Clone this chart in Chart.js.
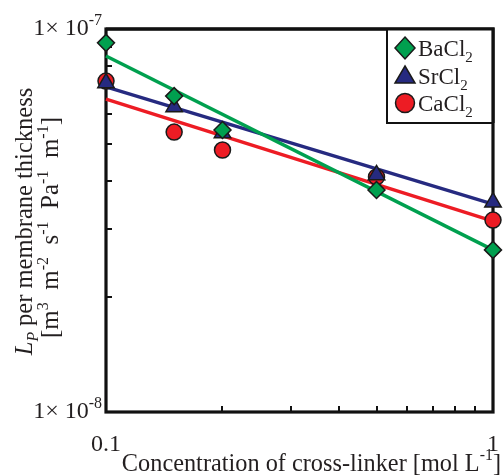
<!DOCTYPE html>
<html><head><meta charset="utf-8">
<script src="https://cdn.jsdelivr.net/npm/chart.js@4/dist/chart.umd.min.js"></script>
<style>html,body{margin:0;padding:0;background:#fff;}#wrap{width:504px;height:475px;position:relative;}</style>
</head><body><div id="wrap"><canvas id="c" width="504" height="475"></canvas></div>
<script>
// ---- data ----
const concentrations = [0.1, 0.15, 0.2, 0.5, 1];
const baCl2 = [9.2e-8, 6.68e-8, 5.45e-8, 3.8e-8, 2.65e-8];
const srCl2 = [7.23e-8, 6.26e-8, 5.35e-8, 4.16e-8, 3.53e-8];
const caCl2 = [7.31e-8, 5.38e-8, 4.83e-8, 4.11e-8, 3.17e-8];
const fitConc = [0.1, 1];
const baFit = [8.5e-8, 2.65e-8];
const srFit = [7.06e-8, 3.49e-8];
const caFit = [6.56e-8, 3.15e-8];
const xLabelValues = [0.1, 1];
const xLabelTexts = ['0.1', '1'];
const yLabelValues = [1e-8, 1e-7];
const yLabelExponents = ['-8', '-7'];
const xMinorTicks = [0.2, 0.3, 0.4, 0.5, 0.6, 0.7, 0.8, 0.9];
const yMinorTicks = [2e-8, 3e-8, 4e-8, 5e-8, 6e-8, 7e-8, 8e-8, 9e-8];
const seriesNames = ['BaCl', 'SrCl', 'CaCl'];
const seriesSub = ['2', '2', '2'];

const GREEN = '#00a04f', BLUE = '#262a80', RED = '#ed1c24', EDGE = '#1a1a1a';
const FONT = '"Liberation Serif", serif';

function pts(xs, ys) { return xs.map((x, i) => ({x: x, y: ys[i]})); }

function segFont(s, size) {
  const sz = s.k === 'n' ? size : Math.round(size * 0.65);
  return (s.it ? 'italic ' : '') + sz + 'px ' + FONT;
}
function segDy(s, size) { return s.k === 'sup' ? -size * 0.42 : (s.k === 'sub' ? size * 0.25 : 0); }
function drawRich(ctx, segs, x, y, size, align, sx) {
  sx = sx || 1;
  ctx.save();
  ctx.translate(x, y); ctx.scale(sx, 1);
  ctx.textBaseline = 'alphabetic'; ctx.textAlign = 'left';
  let w = 0;
  segs.forEach(s => { ctx.font = segFont(s, size); s.w = ctx.measureText(s.t).width; w += s.w; });
  let cx = align === 'right' ? -w : (align === 'center' ? -w / 2 : 0);
  segs.forEach(s => { ctx.font = segFont(s, size); ctx.fillText(s.t, cx, segDy(s, size)); cx += s.w; });
  ctx.restore();
}

const decor = {
  id: 'decor',
  beforeDatasetsDraw(chart) {
    const {ctx, chartArea: a, scales: {x, y}} = chart;
    ctx.save();
    ctx.strokeStyle = '#111'; ctx.lineWidth = 2;
    ctx.beginPath();
    yMinorTicks.forEach(v => { const py = Math.round(y.getPixelForValue(v)); ctx.moveTo(a.left, py); ctx.lineTo(a.left + 6, py); });
    xMinorTicks.forEach(v => { const px = Math.round(x.getPixelForValue(v)); ctx.moveTo(px, a.bottom); ctx.lineTo(px, a.bottom - 6); });
    ctx.stroke();
    ctx.lineWidth = 3.2;
    ctx.strokeRect(a.left, a.top, a.right - a.left, a.bottom - a.top);
    ctx.restore();
  },
  afterDraw(chart) {
    const {ctx, chartArea: a, scales: {x, y}} = chart;
    ctx.save();
    ctx.fillStyle = '#231f20';
    yLabelValues.forEach((v, i) => {
      const py = y.getPixelForValue(v);
      drawRich(ctx, [{t: '1\u00d7 10', k: 'n'}, {t: yLabelExponents[i], k: 'sup'}], a.left - 4, py + 6, 24, 'right');
    });
    xLabelValues.forEach((v, i) => {
      const px = x.getPixelForValue(v);
      drawRich(ctx, [{t: xLabelTexts[i], k: 'n'}], px, 451, 24, 'center');
    });
    drawRich(ctx, [{t: 'Concentration of cross-linker [mol L', k: 'n'}, {t: '-1', k: 'sup'}, {t: ']', k: 'n'}], 501, 471, 26, 'right', 0.935);
    const cy = (a.top + a.bottom) / 2;
    ctx.save(); ctx.translate(32, cy + 1); ctx.rotate(-Math.PI / 2);
    drawRich(ctx, [{t: 'L', k: 'n', it: true}, {t: 'P', k: 'sub', it: true}, {t: ' per membrane thickness', k: 'n'}], 0, 0, 25, 'center', 0.98);
    ctx.restore();
    ctx.save(); ctx.translate(58, cy + 7); ctx.rotate(-Math.PI / 2);
    drawRich(ctx, [{t: '[m', k: 'n'}, {t: '3', k: 'sup'}, {t: '  m', k: 'n'}, {t: '-2', k: 'sup'}, {t: '  s', k: 'n'}, {t: '-1', k: 'sup'}, {t: '  Pa', k: 'n'}, {t: '-1', k: 'sup'}, {t: '  m', k: 'n'}, {t: '-1', k: 'sup'}, {t: ']', k: 'n'}], 0, 0, 25, 'center');
    ctx.restore();
    const lx = 387, ly = a.top, lw = a.right - 387, lh = 94;
    ctx.fillStyle = '#fff'; ctx.fillRect(lx, ly, lw, lh);
    ctx.strokeStyle = '#111'; ctx.lineWidth = 2; ctx.strokeRect(lx, ly, lw, lh);
    ctx.lineWidth = 3.2; ctx.beginPath(); ctx.moveTo(a.left, a.top); ctx.lineTo(a.right, a.top); ctx.lineTo(a.right, ly + lh); ctx.stroke();
    const colors = [GREEN, BLUE, RED];
    const rows = [48, 76, 103];
    ctx.lineWidth = 1.5; ctx.strokeStyle = EDGE;
    rows.forEach((ry, i) => {
      const mx = 405;
      ctx.fillStyle = colors[i];
      ctx.beginPath();
      if (i === 0) { ctx.moveTo(mx, ry - 11); ctx.lineTo(mx + 10, ry); ctx.lineTo(mx, ry + 11); ctx.lineTo(mx - 10, ry); ctx.closePath(); }
      else if (i === 1) { ctx.moveTo(mx, ry - 10); ctx.lineTo(mx + 10, ry + 7); ctx.lineTo(mx - 10, ry + 7); ctx.closePath(); }
      else { ctx.arc(mx, ry, 9.5, 0, Math.PI * 2); }
      ctx.fill(); ctx.stroke();
      ctx.fillStyle = '#231f20';
      drawRich(ctx, [{t: seriesNames[i], k: 'n'}, {t: seriesSub[i], k: 'sub'}], 418, ry + 8, 23, 'left');
    });
    ctx.restore();
  }
};

const pointBase = {showLine: false, borderColor: EDGE, borderWidth: 1.5, clip: false};
const lineBase = {showLine: true, pointRadius: 0, borderWidth: 3.5, clip: false};

function build() {
  new Chart(document.getElementById('c'), {
    type: 'scatter',
    data: {
      datasets: [
        Object.assign({label: 'BaCl2', data: pts(concentrations, baCl2), pointStyle: 'rectRot', pointRadius: 8.5, backgroundColor: GREEN}, pointBase),
        Object.assign({label: 'SrCl2', data: pts(concentrations, srCl2), pointStyle: 'triangle', pointRadius: 9.5, backgroundColor: BLUE}, pointBase),
        Object.assign({label: 'CaCl2', data: pts(concentrations, caCl2), pointStyle: 'circle', pointRadius: 8, backgroundColor: RED}, pointBase),
        Object.assign({label: 'BaCl2 fit', data: pts(fitConc, baFit), borderColor: GREEN}, lineBase),
        Object.assign({label: 'SrCl2 fit', data: pts(fitConc, srFit), borderColor: BLUE}, lineBase),
        Object.assign({label: 'CaCl2 fit', data: pts(fitConc, caFit), borderColor: RED}, lineBase)
      ]
    },
    options: {
      responsive: false, animation: false, devicePixelRatio: 1,
      layout: {padding: {left: 106, top: 29, right: 4, bottom: 63}},
      scales: {
        x: {type: 'logarithmic', min: 0.1, max: 1, display: false},
        y: {type: 'logarithmic', min: 1e-8, max: 1e-7, display: false}
      },
      plugins: {legend: {display: false}, tooltip: {enabled: false}}
    },
    plugins: [decor]
  });
}
Promise.all([
  document.fonts.load('24px "Liberation Serif"'),
  document.fonts.load('italic 24px "Liberation Serif"')
]).then(build, build);
</script></body></html>
